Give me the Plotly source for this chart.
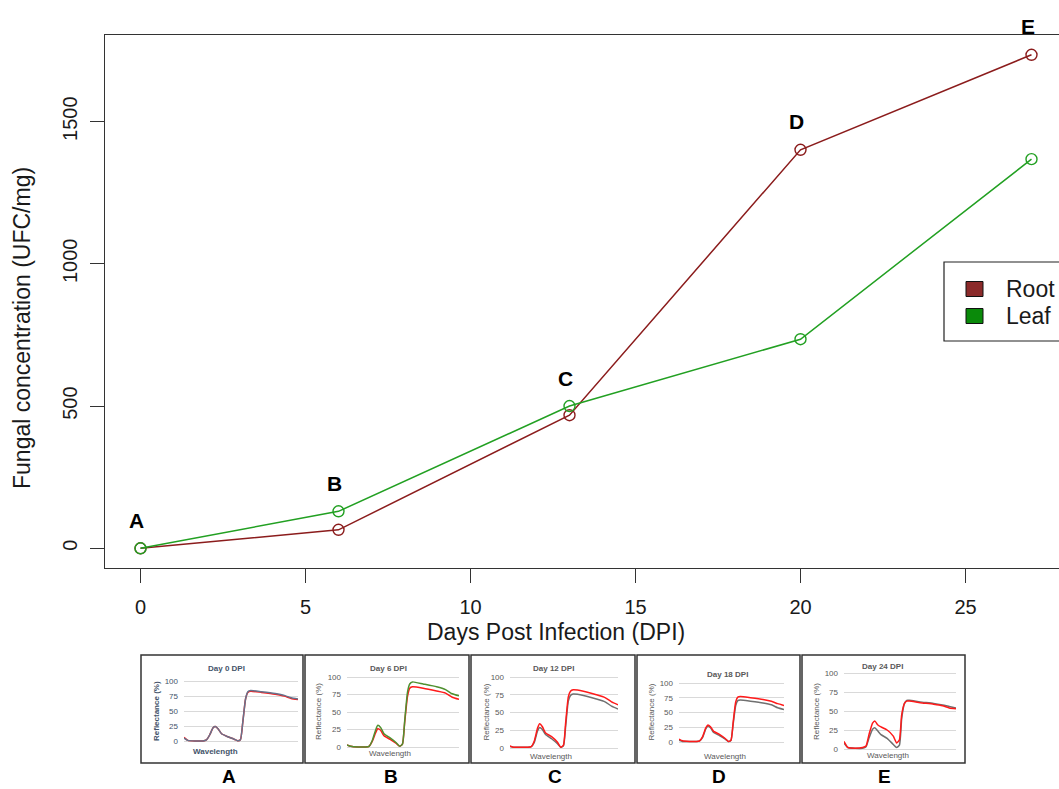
import plotly.graph_objects as go

W, H = 1059, 789

# ---------------- data ----------------
DAYS = [0, 6, 13, 20, 27]
ROOT = [0, 65, 468, 1401, 1735]
LEAF = [0, 130, 500, 735, 1368]
POINT_LABELS = ["A", "B", "C", "D", "E"]
X_TICKS = [0, 5, 10, 15, 20, 25]
Y_TICKS = [0, 500, 1000, 1500]

# spectral insets (reflectance %)
WAVELENGTH = [400, 420, 460, 500, 518, 535, 553, 565, 580, 598, 631, 664,
              682, 697, 709, 724, 736, 751, 808, 880, 928, 964, 1000]
INSET_TITLES = ["Day 0 DPI", "Day 6 DPI", "Day 12 DPI", "Day 18 DPI", "Day 24 DPI"]
INSET_TICKS = [0, 25, 50, 75, 100]

A_RED = [6, 1, 0, 0, 2, 10, 22, 24, 20, 12, 7, 3, 0.5, 2, 30, 70, 81, 83, 81, 78, 75, 71, 69]
A_GREY = [5, 1, 0, 0, 2, 10, 22, 24, 20, 12, 7, 3, 0.5, 2, 30, 70, 82, 84, 82, 79, 76, 72, 70]
B_RED = [3, 1, 0, 0, 1, 8, 20, 26, 24, 16, 11, 5, 1, 4, 35, 72, 84, 86, 84, 80, 77, 71, 68]
B_GREEN = [3, 1, 0, 0, 1, 9, 24, 31, 28, 19, 13, 6, 1, 4, 37, 78, 90, 93, 90, 86, 82, 76, 73]
C_GREY = [2, 1, 1, 1, 2, 8, 24, 29, 26, 19, 13, 6, 1, 3, 30, 66, 74, 76, 74, 69, 65, 59, 55]
C_RED = [3, 1, 1, 1, 2, 10, 28, 34, 30, 21, 16, 8, 1, 4, 35, 72, 80, 82, 80, 75, 71, 65, 61]
D_GREY = [3, 1, 1, 1, 2, 8, 22, 27, 24, 16, 11, 5, 1, 3, 29, 62, 70, 71, 69, 66, 63, 58, 55]
D_RED = [5, 2, 1, 1, 2, 9, 24, 29, 26, 18, 13, 6, 1, 3, 32, 68, 76, 77, 75, 72, 69, 65, 62]
E_GREY = [8, 2, 1, 1, 3, 15, 26, 28, 24, 19, 14, 6, 2, 5, 40, 60, 64, 64, 62, 60, 58, 56, 54]
E_RED = [10, 2, 1, 2, 4, 20, 34, 37, 32, 29, 25, 17, 8, 12, 45, 60, 63, 63, 61, 59, 57, 54, 53]

# ---------------- styling ----------------
ROOT_C = "#8b1c1c"
LEAF_C = "#22a022"
ROOT_LEG = "#8b2a2a"
LEAF_LEG = "#0a8a0a"
RED = "#ff1a1a"
GREY = "#707070"
SLATE = "#66728c"
GREEN = "#4f9030"
FONT = "Liberation Sans"
INK = "#1a1a1a"


def px(x):
    return x / W


def py(y):
    return 1 - y / H


fig = go.Figure()

# main chart pixel mapping
X0PX, XPPU = 140.5, 33.0
Y0PX, YPPU = 548.3, 0.28445
LEFT, TOP, BOTTOM = 104.9, 35.0, 568.0

def xv(p):
    return (p - X0PX) / XPPU

def yv(p):
    return (Y0PX - p) / YPPU

fig.add_trace(go.Scatter(x=DAYS, y=ROOT, mode="lines+markers", name="Root",
                         line=dict(color=ROOT_C, width=1.5),
                         marker=dict(symbol="circle-open", size=11, color=ROOT_C,
                                     line=dict(width=1.4, color=ROOT_C)),
                         xaxis="x", yaxis="y", showlegend=False))
fig.add_trace(go.Scatter(x=DAYS, y=LEAF, mode="lines+markers", name="Leaf",
                         line=dict(color=LEAF_C, width=1.5),
                         marker=dict(symbol="circle-open", size=11, color=LEAF_C,
                                     line=dict(width=1.4, color=LEAF_C)),
                         xaxis="x", yaxis="y", showlegend=False))

layout = dict(
    width=W, height=H, margin=dict(l=0, r=0, t=0, b=0),
    paper_bgcolor="white", plot_bgcolor="rgba(0,0,0,0)",
    showlegend=False,
    font=dict(family=FONT, color=INK),
    xaxis=dict(domain=[px(LEFT), 1], range=[xv(LEFT), xv(W)],
               tickvals=X_TICKS, ticks="outside", ticklen=14, tickwidth=1,
               tickcolor="#333", showline=True, linecolor="#333", linewidth=1.3,
               mirror=True, showgrid=False, zeroline=False,
               tickfont=dict(size=20, family=FONT, color=INK),
               ticklabelstandoff=7, anchor="y"),
    yaxis=dict(domain=[py(BOTTOM), py(TOP)], range=[yv(BOTTOM), yv(TOP)],
               tickvals=Y_TICKS, ticks="outside", ticklen=14, tickwidth=1,
               tickcolor="#333", showline=True, linecolor="#333", linewidth=1.3,
               showgrid=False, zeroline=False, tickangle=-90,
               tickfont=dict(size=20, family=FONT, color=INK),
               ticklabelstandoff=5, anchor="x"),
)

annotations = []
shapes = []


def note(xp, yp, text, size, color=INK, weight="normal", angle=0, xanchor="center"):
    annotations.append(dict(x=px(xp), y=py(yp), xref="paper", yref="paper", text=text,
                            showarrow=False, xanchor=xanchor, yanchor="middle",
                            textangle=angle,
                            font=dict(size=size, family=FONT, color=color, weight=weight)))


# point labels
for d, r, l, t in zip(DAYS, ROOT, LEAF, POINT_LABELS):
    annotations.append(dict(x=d, y=max(r, l), xref="x", yref="y", text=t,
                            showarrow=False, yshift=28, xshift=-4,
                            xanchor="center", yanchor="middle",
                            font=dict(size=21, family=FONT, color="black", weight="bold")))

# axis titles
note(556, 632, "Days Post Infection (DPI)", 23)
note(22, 328, "Fungal concentration (UFC/mg)", 23, angle=-90)

# legend box
shapes.append(dict(type="rect", xref="paper", yref="paper",
                   x0=px(944), x1=px(1080), y0=py(341), y1=py(262),
                   line=dict(color="#222", width=1.2), fillcolor="white", layer="above"))
for name, col, yc in [("Root", ROOT_LEG, 289), ("Leaf", LEAF_LEG, 316)]:
    shapes.append(dict(type="rect", xref="paper", yref="paper",
                       x0=px(966), x1=px(983), y0=py(yc + 7.5), y1=py(yc - 7.5),
                       line=dict(color="#111", width=1), fillcolor=col, layer="above"))
    note(1004, yc, name, 23, xanchor="left")

# ---------------- insets ----------------
PANELS = [
    # border x0,x1 ; plot x0,x1 ; y100, y0 ; title (x,y) ; ytitle x ; wavelength (x,y); caption x
    dict(b=(141, 303), p=(184, 298), y100=681, y0=741, t=(226, 668), yt=156, wl=(215, 751), cap=229),
    dict(b=(305, 469), p=(347, 459), y100=677, y0=747, t=(388, 668), yt=318, wl=(390, 753), cap=391),
    dict(b=(471, 635), p=(510, 618), y100=677, y0=748, t=(553, 668), yt=486, wl=(551, 756), cap=555),
    dict(b=(637, 800), p=(679, 784), y100=683, y0=742, t=(727, 674), yt=651, wl=(725, 756), cap=719),
    dict(b=(802, 965), p=(844, 956), y100=673, y0=749, t=(882, 666), yt=816, wl=(888, 755), cap=884),
]
SERIES = [
    [(A_RED, RED), (A_GREY, SLATE)],
    [(B_RED, RED), (B_GREEN, GREEN)],
    [(C_GREY, GREY), (C_RED, RED)],
    [(D_GREY, GREY), (D_RED, RED)],
    [(E_GREY, GREY), (E_RED, RED)],
]

for i, (pan, ser, title) in enumerate(zip(PANELS, SERIES, INSET_TITLES)):
    n = i + 2
    txtc = "#44546a" if i == 0 else "#595959"
    w2 = "bold" if i == 0 else "normal"
    pad = 4
    vpp = 100.0 / (pan["y0"] - pan["y100"])
    layout[f"xaxis{n}"] = dict(domain=[px(pan["p"][0]), px(pan["p"][1])], range=[400, 1000],
                               visible=False, anchor=f"y{n}")
    layout[f"yaxis{n}"] = dict(domain=[py(pan["y0"] + pad), py(pan["y100"] - pad)],
                               range=[-pad * vpp, 100 + pad * vpp],
                               tickvals=INSET_TICKS, showgrid=True, gridcolor="#d9d9d9",
                               gridwidth=1, zeroline=False, showline=False, ticks="",
                               tickfont=dict(size=8, family=FONT, color=txtc),
                               ticklabelstandoff=5, anchor=f"x{n}")
    for vals, col in ser:
        fig.add_trace(go.Scatter(x=WAVELENGTH, y=vals, mode="lines",
                                 line=dict(color=col, width=1.5, shape="spline", smoothing=0.5),
                                 xaxis=f"x{n}", yaxis=f"y{n}", showlegend=False,
                                 hoverinfo="skip"))
    shapes.append(dict(type="rect", xref="paper", yref="paper",
                       x0=px(pan["b"][0]), x1=px(pan["b"][1]), y0=py(763), y1=py(655),
                       line=dict(color="#333", width=1.5)))
    note(pan["t"][0], pan["t"][1], title, 8, color=txtc, weight="bold")
    note(pan["yt"], (pan["y0"] + pan["y100"]) / 2, "Reflectance (%)", 8, color=txtc,
         weight=w2, angle=-90)
    note(pan["wl"][0], pan["wl"][1], "Wavelength", 8, color=txtc, weight=w2)
    note(pan["cap"], 776, POINT_LABELS[i], 19, color="black", weight="bold")

layout["annotations"] = annotations
layout["shapes"] = shapes
fig.update_layout(**layout)

fig.write_html("out.html")
